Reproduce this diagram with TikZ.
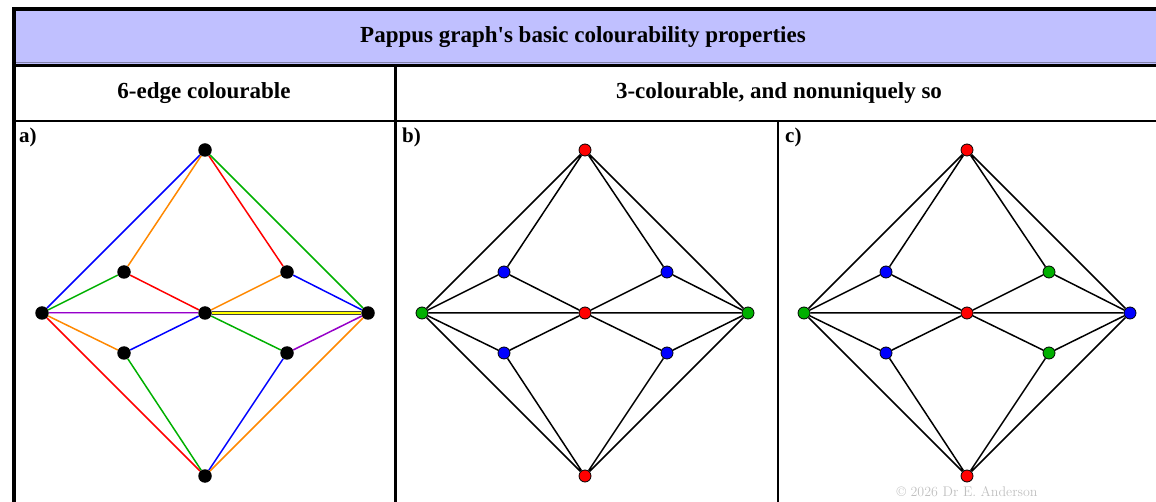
\documentclass[tikz,border=0pt]{standalone}
\usepackage{fontspec}
\setmainfont{Liberation Serif}[Ligatures=TeXOff]
\newfontfamily\lmfont{Latin Modern Roman}
\usetikzlibrary{backgrounds}
\definecolor{lav}{RGB}{192,192,255}
\definecolor{ered}{RGB}{255,0,0}
\definecolor{eblue}{RGB}{0,0,255}
\definecolor{egreen}{RGB}{0,176,0}
\definecolor{eorange}{RGB}{255,136,0}
\definecolor{epurple}{RGB}{150,0,200}
\definecolor{epurplelt}{RGB}{215,150,240}
\definecolor{eyellow}{RGB}{255,255,0}
\definecolor{cprt}{RGB}{192,192,192}
\tikzset{
  vtx/.style={circle, fill=black, inner sep=0pt, minimum size=13.5pt},
  cvtx/.style={circle, draw=black, line width=0.8pt, inner sep=0pt, minimum size=12pt},
  ed/.style={line width=1.5pt},
  dblpurple/.style={draw=epurple, double=epurplelt, line width=0.9pt, double distance=0.9pt},
  dblyellow/.style={draw=black!75, double=eyellow, line width=0.9pt, double distance=1.3pt},
  rule/.style={draw=black},
  hdr/.style={font=\fontsize{23}{26}\selectfont\bfseries, inner sep=0pt},
  plabel/.style={font=\fontsize{21}{24}\selectfont\bfseries, inner sep=0pt, anchor=north west},
}
\begin{document}
\begin{tikzpicture}[x=1pt,y=-1pt]
\useasboundingbox (0,0) rectangle (1156,502);
% table
\fill[lav] (14,10) rectangle (1156,64);
\draw[draw={rgb,255:red,130;green,130;blue,170}, line width=1pt] (14,63) -- (1156,63);
\draw[rule, line width=4pt] (12,9) -- (1156,9);
\draw[rule, line width=3.5pt] (14,7.5) -- (14,502);
\draw[rule, line width=3pt] (14,65.5) -- (1156,65.5);
\draw[rule, line width=2pt] (14,121) -- (1156,121);
\draw[rule, line width=3pt] (395.5,65.5) -- (395.5,502);
\draw[rule, line width=2.5pt] (778,121) -- (778,502);
\node[hdr] (title) at (583,37) {Pappus graph's basic colourability properties};
\node[hdr] (h1) at (204,93) {6-edge colourable};
\node[hdr] (h2) at (779,93) {3-colourable, and nonuniquely so};
\node[plabel] (la) at (19,128) {a)};
\node[plabel] (lb) at (402,128) {b)};
\node[plabel] (lc) at (785,128) {c)};
\node[font=\lmfont\fontsize{14}{16}\selectfont, text=cprt, inner sep=0pt] (copy) at (967,492) {\textcopyright\ 2026 Dr E. Anderson};

% panel a
\begin{scope}
\node[vtx] (aT) at (205,150) {};
\node[vtx] (aL) at (42,313) {};
\node[vtx] (aR) at (368,313) {};
\node[vtx] (aC) at (205,313) {};
\node[vtx] (aUL) at (124,272) {};
\node[vtx] (aUR) at (287,272) {};
\node[vtx] (aLL) at (124,353) {};
\node[vtx] (aLR) at (287,353) {};
\node[vtx] (aB) at (205,476) {};
\begin{scope}[on background layer]
\draw[ed, eblue] (aT) -- (aL);
\draw[ed, eorange] (aT) -- (aUL);
\draw[ed, ered] (aT) -- (aUR);
\draw[ed, egreen] (aT) -- (aR);
\draw[ed, egreen] (aL) -- (aUL);
\draw[dblpurple] (aL) -- (aC);
\draw[ed, eorange] (aL) -- (aLL);
\draw[ed, ered] (aL) -- (aB);
\draw[ed, ered] (aUL) -- (aC);
\draw[ed, eorange] (aUR) -- (aC);
\draw[ed, eblue] (aUR) -- (aR);
\draw[dblyellow] (aC) -- (aR);
\draw[ed, eblue] (aC) -- (aLL);
\draw[ed, egreen] (aC) -- (aLR);
\draw[ed, egreen] (aLL) -- (aB);
\draw[ed, epurple] (aLR) -- (aR);
\draw[ed, eblue] (aLR) -- (aB);
\draw[ed, eorange] (aR) -- (aB);
\end{scope}
\end{scope}

% panel b
\begin{scope}[shift={(380,0)}]
\node[cvtx, fill=ered] (bT) at (205,150) {};
\node[cvtx, fill=egreen] (bL) at (42,313) {};
\node[cvtx, fill=egreen] (bR) at (368,313) {};
\node[cvtx, fill=ered] (bC) at (205,313) {};
\node[cvtx, fill=eblue] (bUL) at (124,272) {};
\node[cvtx, fill=eblue] (bUR) at (287,272) {};
\node[cvtx, fill=eblue] (bLL) at (124,353) {};
\node[cvtx, fill=eblue] (bLR) at (287,353) {};
\node[cvtx, fill=ered] (bB) at (205,476) {};
\begin{scope}[on background layer]
\draw[ed] (bT) -- (bL) (bT) -- (bUL) (bT) -- (bUR) (bT) -- (bR)
  (bL) -- (bUL) (bL) -- (bC) (bL) -- (bLL) (bL) -- (bB)
  (bUL) -- (bC) (bUR) -- (bC) (bUR) -- (bR)
  (bC) -- (bR) (bC) -- (bLL) (bC) -- (bLR)
  (bLL) -- (bB) (bLR) -- (bR) (bLR) -- (bB) (bR) -- (bB);
\end{scope}
\end{scope}

% panel c
\begin{scope}[shift={(762,0)}]
\node[cvtx, fill=ered] (cT) at (205,150) {};
\node[cvtx, fill=egreen] (cL) at (42,313) {};
\node[cvtx, fill=eblue] (cR) at (368,313) {};
\node[cvtx, fill=ered] (cC) at (205,313) {};
\node[cvtx, fill=eblue] (cUL) at (124,272) {};
\node[cvtx, fill=egreen] (cUR) at (287,272) {};
\node[cvtx, fill=eblue] (cLL) at (124,353) {};
\node[cvtx, fill=egreen] (cLR) at (287,353) {};
\node[cvtx, fill=ered] (cB) at (205,476) {};
\begin{scope}[on background layer]
\draw[ed] (cT) -- (cL) (cT) -- (cUL) (cT) -- (cUR) (cT) -- (cR)
  (cL) -- (cUL) (cL) -- (cC) (cL) -- (cLL) (cL) -- (cB)
  (cUL) -- (cC) (cUR) -- (cC) (cUR) -- (cR)
  (cC) -- (cR) (cC) -- (cLL) (cC) -- (cLR)
  (cLL) -- (cB) (cLR) -- (cR) (cLR) -- (cB) (cR) -- (cB);
\end{scope}
\end{scope}
\end{tikzpicture}
\end{document}
